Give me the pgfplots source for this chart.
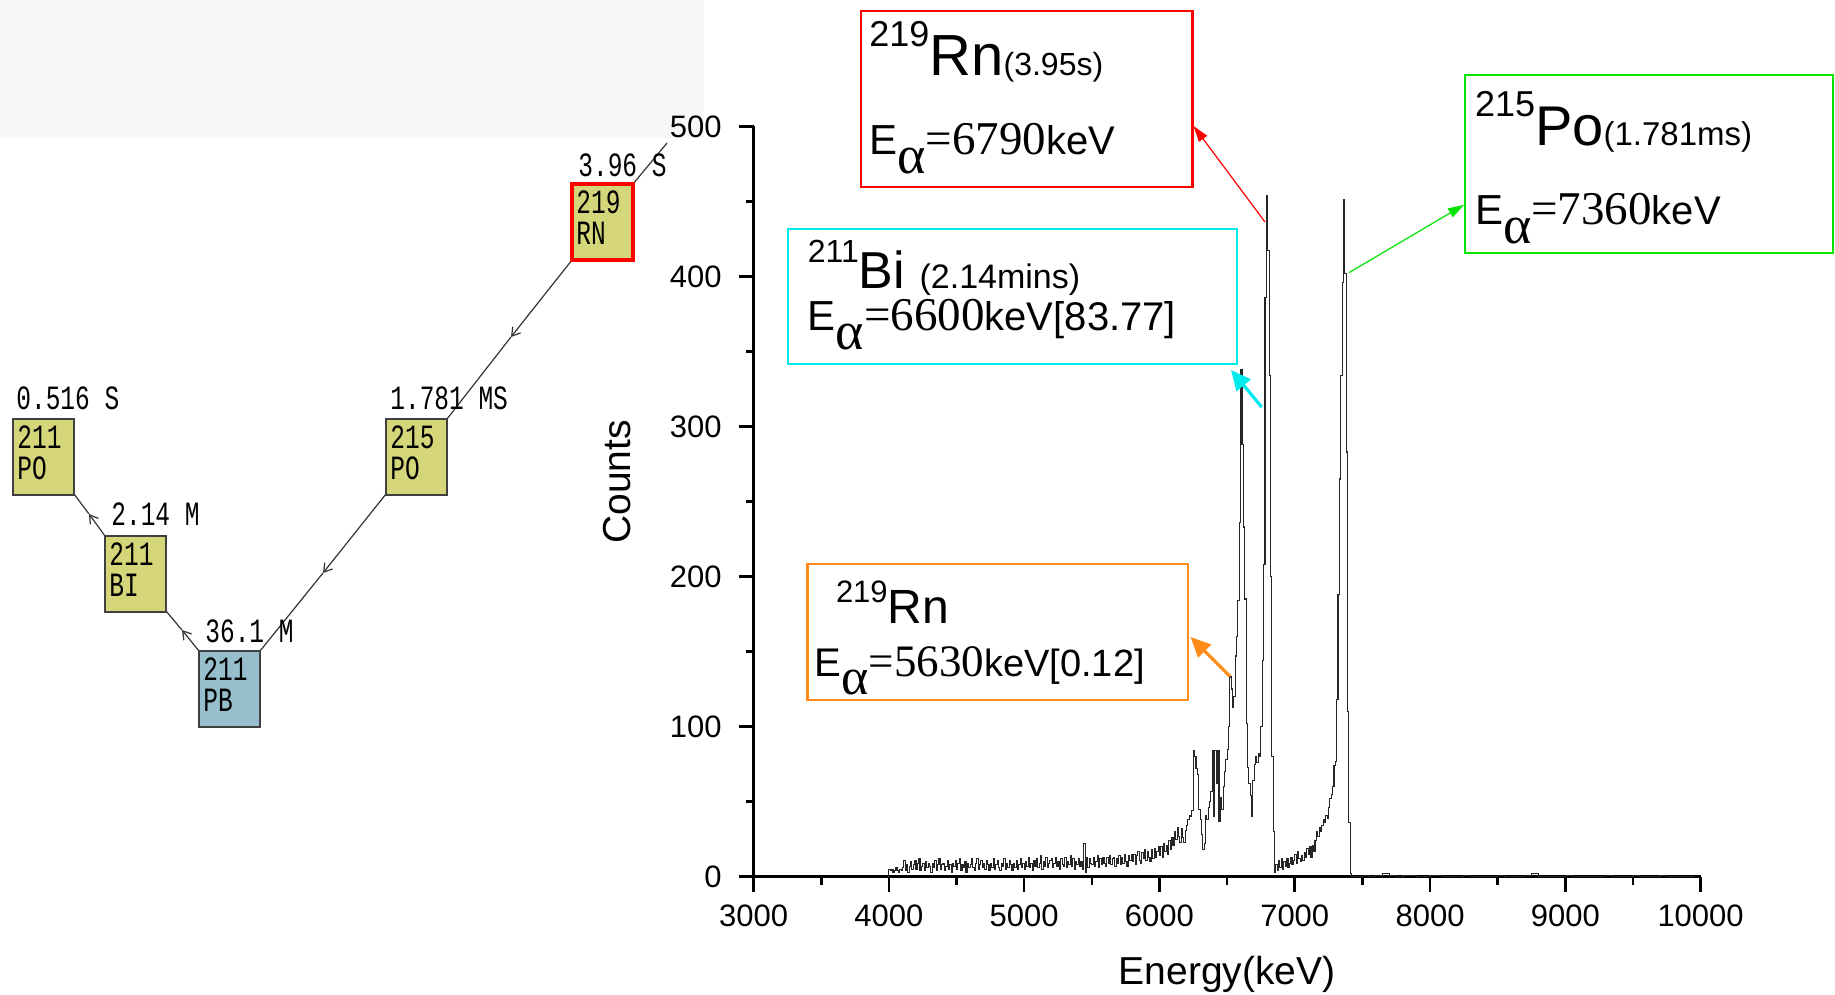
\documentclass[border=0pt]{standalone}
\usepackage{fontspec}
\setmainfont{Liberation Sans}
\newfontfamily\serif{Liberation Serif}
\newfontfamily\mono[FakeStretch=0.72]{Liberation Mono}
\usepackage{pgfplots}
\pgfplotsset{compat=1.18}
\usetikzlibrary{arrows.meta}
\newcommand\fs[1]{\fontsize{#1pt}{#1pt}\selectfont}
\definecolor{chainfill}{RGB}{213,214,122}
\definecolor{pbfill}{RGB}{150,190,204}
\definecolor{boxcyan}{RGB}{0,235,235}
\definecolor{boxgreen}{RGB}{0,228,0}
\definecolor{boxorange}{RGB}{255,140,26}

\begin{document}
\begin{tikzpicture}
\path[use as bounding box] (0,0) rectangle (917.5pt,497.5pt);
% light strip behind the top of the decay chain panel
\fill[black!3] (0pt,428.5pt) rectangle (352pt,497.5pt);

% spectrum
\begin{axis}[
    at={(376.8pt,59.2pt)}, anchor=south west,
    scale only axis, width=473.5pt, height=375.1pt,
    xmin=3000, xmax=10000, ymin=0, ymax=500,
    axis x line=bottom, axis y line=left,
    axis line style={-, line width=1.4pt},
    xtick={3000,4000,...,10000}, ytick={0,100,...,500},
    minor x tick num=1, minor y tick num=1,
    tick align=outside, major tick length=7.5pt, minor tick length=4pt,
    every tick/.style={black, line width=1.3pt},
    /pgf/number format/assume math mode=true,
    /pgf/number format/1000 sep={}, scaled ticks=false,
    ticklabel style={font=\fs{15.5}},
    xticklabel style={anchor=center, yshift=-12pt},
    yticklabel style={anchor=east, xshift=-5pt},
    xlabel={Energy(keV)}, ylabel={Counts},
    label style={font=\fs{19.5}},
    xlabel style={at={(axis description cs:0.5,0)}, anchor=center, yshift=-49pt},
    ylabel style={at={(axis description cs:-0.1446,0.526)}, anchor=center},
    clip=false,
]
\addplot[const plot mark left, black!85, line width=0.55pt] coordinates {
(3999,0)(4000,5)(4010,4)(4020,5)(4030,3)(4040,4)(4050,6)(4060,4)(4070,3)(4080,5)(4090,4)
(4100,6)(4110,11)(4120,4)(4130,8)(4140,3)(4150,7)(4160,10)(4170,5)(4180,8)(4190,11)
(4200,5)(4210,9)(4220,12)(4230,4)(4240,7)(4250,9)(4260,4)(4270,10)(4280,6)(4290,9)
(4300,7)(4310,3)(4320,9)(4330,6)(4340,11)(4350,4)(4360,8)(4370,12)(4380,5)(4390,8)
(4400,9)(4410,4)(4420,7)(4430,11)(4440,5)(4450,8)(4460,3)(4470,9)(4480,7)(4490,11)
(4500,5)(4510,9)(4520,12)(4530,4)(4540,8)(4550,6)(4560,10)(4570,3)(4580,9)(4590,6)
(4600,8)(4610,12)(4620,6)(4630,4)(4640,9)(4650,12)(4660,5)(4670,8)(4680,11)(4690,6)
(4700,9)(4710,5)(4720,11)(4730,8)(4740,4)(4750,9)(4760,6)(4770,12)(4780,5)(4790,8)
(4800,11)(4810,6)(4820,4)(4830,9)(4840,7)(4850,12)(4860,5)(4870,9)(4880,6)(4890,11)
(4900,8)(4910,4)(4920,9)(4930,6)(4940,11)(4950,5)(4960,8)(4970,12)(4980,6)(4990,9)
(5000,5)(5010,10)(5020,7)(5030,13)(5040,6)(5050,9)(5060,4)(5070,11)(5080,7)(5090,12)
(5100,6)(5110,9)(5120,14)(5130,5)(5140,10)(5150,7)(5160,13)(5170,6)(5180,9)(5190,11)
(5200,12)(5210,6)(5220,9)(5230,13)(5240,7)(5250,10)(5260,5)(5270,12)(5280,8)(5290,7)
(5300,13)(5310,6)(5320,10)(5330,8)(5340,14)(5350,7)(5360,12)(5370,5)(5380,10)(5390,8)
(5400,12)(5410,7)(5420,10)(5430,5)(5440,22)(5450,3)(5460,13)(5470,6)(5480,12)(5490,9)
(5500,8)(5510,13)(5520,7)(5530,10)(5540,14)(5550,6)(5560,12)(5570,8)(5580,13)(5590,9)
(5600,7)(5610,13)(5620,9)(5630,14)(5640,8)(5650,12)(5660,13)(5670,7)(5680,12)(5690,9)
(5700,14)(5710,8)(5720,13)(5730,9)(5740,15)(5750,10)(5760,7)(5770,14)(5780,11)(5790,15)
(5800,10)(5810,15)(5820,8)(5830,14)(5840,17)(5850,11)(5860,9)(5870,16)(5880,12)(5890,18)
(5900,11)(5910,17)(5920,13)(5930,10)(5940,18)(5950,12)(5960,19)(5970,13)(5980,17)(5990,20)
(6000,14)(6010,20)(6020,13)(6030,22)(6040,17)(6050,21)(6060,15)(6070,24)(6080,18)(6090,26)
(6100,21)(6110,30)(6120,25)(6130,33)(6140,27)(6150,23)(6160,32)(6170,26)(6180,23)(6190,31)
(6200,34)(6210,38)(6220,41)(6230,40)(6240,44)(6250,84)(6260,80)(6270,72)(6280,68)(6290,45)
(6300,38)(6310,28)(6320,18)(6330,22)(6340,41)(6350,38)(6360,46)(6370,50)(6380,57)(6390,84)
(6400,40)(6410,84)(6420,62)(6430,84)(6440,37)(6450,53)(6460,45)(6470,60)(6480,70)(6490,78)
(6500,85)(6510,100)(6520,133)(6530,125)(6540,113)(6550,120)(6560,147)(6570,160)(6580,184)(6590,236)
(6600,338)(6610,288)(6620,233)(6630,185)(6640,102)(6650,73)(6660,62)(6670,54)(6680,40)(6690,64)
(6700,75)(6710,80)(6720,76)(6730,82)(6740,80)(6750,100)(6760,144)(6770,208)(6780,386)(6790,454)
(6800,417)(6810,334)(6820,200)(6830,80)(6840,30)(6850,3)(6860,8)(6870,4)(6880,11)(6890,6)
(6900,12)(6910,5)(6920,10)(6930,7)(6940,12)(6950,6)(6960,9)(6970,13)(6980,8)(6990,11)
(7000,15)(7010,9)(7020,17)(7030,12)(7040,10)(7050,14)(7060,11)(7070,16)(7080,13)(7090,19)
(7100,15)(7110,20)(7120,13)(7130,21)(7140,17)(7150,24)(7160,30)(7170,27)(7180,33)(7190,30)
(7200,34)(7210,38)(7220,36)(7230,41)(7240,39)(7250,46)(7260,52)(7270,55)(7280,60)(7290,74)
(7300,77)(7310,118)(7320,188)(7330,265)(7340,334)(7350,396)(7360,451)(7370,402)(7380,283)(7390,110)
(7400,36)(7410,2)(7420,0)(7500,1)(7550,0)(7600,1)(7650,2)(7700,1)(7750,0)(7800,1)
(7900,0)(8000,1)(8100,0)(8250,1)(8300,0)(8500,1)(8550,0)(8700,1)(8750,2)(8800,0)
(9000,1)(9050,0)(9300,1)(9350,0)(9500,1)(9550,0)(9700,1)(9750,0)(9950,0)
};
\end{axis}

\begin{scope}[x=0.5pt, y=-0.5pt, shift={(0,497.5pt)}]
% decay chain panel
\draw[black!80, line width=0.6pt] (633,184) -- (667,143);
\draw[black!80, line width=0.6pt, -{Straight Barb[length=4pt,width=5pt]}] (572,260) -- (511,337);
\draw[black!80, line width=0.6pt] (511,337) -- (447,419);
\draw[black!80, line width=0.6pt, -{Straight Barb[length=4pt,width=5pt]}] (386,494) -- (323,573);
\draw[black!80, line width=0.6pt] (323,573) -- (260,651);
\draw[black!80, line width=0.6pt, -{Straight Barb[length=4pt,width=5pt]}] (199,651) -- (182,630);
\draw[black!80, line width=0.6pt] (182,630) -- (166,611);
\draw[black!80, line width=0.6pt, -{Straight Barb[length=4pt,width=5pt]}] (105,536) -- (89,514);
\draw[black!80, line width=0.6pt] (89,514) -- (74,494);
\foreach \bx/\by/\ta/\tb/\col in {572/184/219/RN/chainfill, 386/419/215/PO/chainfill,
    13/419/211/PO/chainfill, 105/536/211/BI/chainfill, 199/651/211/PB/pbfill} {
  \filldraw[fill=\col, draw=black!75, line width=0.9pt] (\bx,\by) rectangle ++(61,76);
  \node[anchor=base west, inner sep=0pt] at (\bx+4,\by+30) {\mono\fs{17}\ta};
  \node[anchor=base west, inner sep=0pt] at (\bx+4,\by+61) {\mono\fs{17}\tb};
}
\draw[red, line width=1.6pt] (572,184) rectangle (633,260);
\node[anchor=base west, inner sep=0pt] at (578,177) {\mono\fs{17}3.96 S};
\node[anchor=base west, inner sep=0pt] at (390,410) {\mono\fs{17}1.781 MS};
\node[anchor=base west, inner sep=0pt] at (16,410) {\mono\fs{17}0.516 S};
\node[anchor=base west, inner sep=0pt] at (111,526) {\mono\fs{17}2.14 M};
\node[anchor=base west, inner sep=0pt] at (205,643) {\mono\fs{17}36.1 M};

% annotation boxes
\draw[red, line width=1.1pt] (861,11) rectangle (1192.5,187);
\node[anchor=base west, inner sep=0pt] at (869,76)
  {\fs{18}\raisebox{14.5pt}{219}\fs{29}Rn\fs{16}(3.95s)};
\node[anchor=base west, inner sep=0pt] at (869,154.5)
  {\fs{21}E\raisebox{-9.5pt}{\serif\fs{27}α}{\serif\fs{23.5}=6790}\fs{20}keV};
\draw[red, line width=0.6pt, -{Triangle[length=8pt,width=5pt]}] (1265,222) -- (1193.5,126);

\draw[boxcyan, line width=1.1pt] (787.6,229.4) rectangle (1237,364);
\node[anchor=base west, inner sep=0pt] at (807.5,289)
  {\fs{16}\raisebox{13pt}{211}\fs{26}Bi \fs{17}(2.14mins)};
\node[anchor=base west, inner sep=0pt] at (807.5,331)
  {\fs{21}E\raisebox{-9.5pt}{\serif\fs{27}α}{\serif\fs{23.5}=6600}\fs{20}keV[83.77]};
\draw[boxcyan, line width=1.6pt, -{Triangle[length=10pt,width=9pt]}] (1261.6,407) -- (1231,370);

\draw[boxgreen, line width=1.1pt] (1465,75) rectangle (1833,253);
\node[anchor=base west, inner sep=0pt] at (1474.6,146)
  {\fs{18}\raisebox{14.5pt}{215}\fs{28}Po\fs{16.5}(1.781ms)};
\node[anchor=base west, inner sep=0pt] at (1474.6,224.7)
  {\fs{21}E\raisebox{-9.5pt}{\serif\fs{27}α}{\serif\fs{23.5}=7360}\fs{20}keV};
\draw[boxgreen, line width=0.6pt, -{Triangle[length=8pt,width=5pt]}] (1349,272.7) -- (1464,204.8);

\draw[boxorange, line width=1.1pt] (807.5,564) rectangle (1188,700);
\node[anchor=base west, inner sep=0pt] at (835.6,624)
  {\fs{15.5}\raisebox{10.5pt}{219}\fs{24}Rn};
\node[anchor=base west, inner sep=0pt] at (814.5,676.4)
  {\fs{20}E\raisebox{-9pt}{\serif\fs{26}α}{\serif\fs{22.5}=5630}\fs{19}keV[0.12]};
\draw[boxorange, line width=1.6pt, -{Triangle[length=10pt,width=9pt]}] (1230,676.4) -- (1190.5,637);
\end{scope}
\end{tikzpicture}
\end{document}
